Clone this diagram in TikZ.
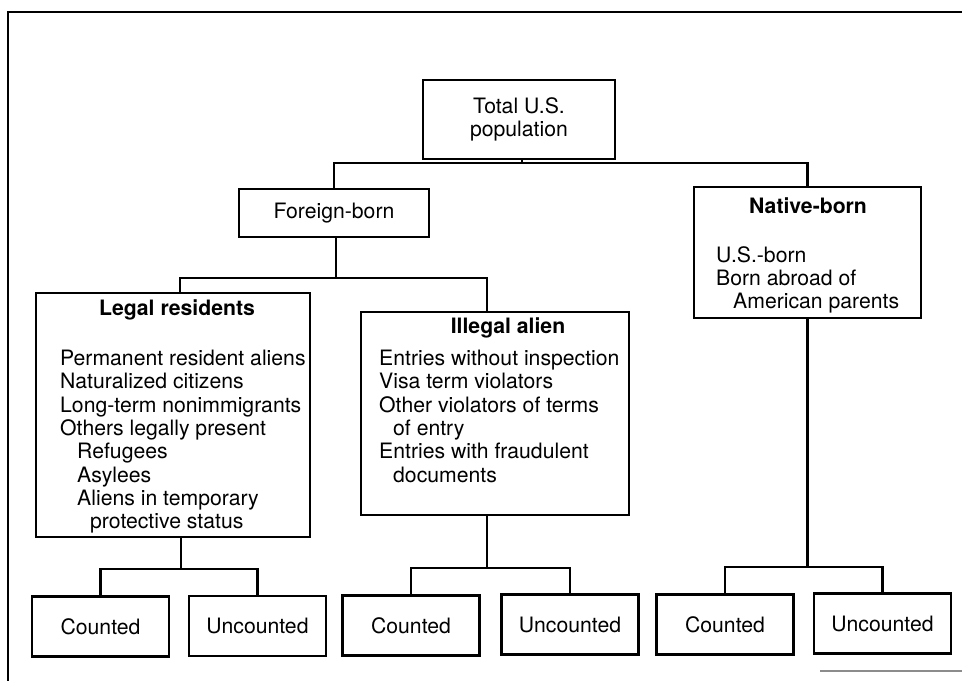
\documentclass[tikz,border=0pt]{standalone}
\usepackage{fontspec}
\setmainfont{TeX Gyre Heros}
\usetikzlibrary{calc}
\newcommand\chartfont{\fontsize{21.2}{23.3}\selectfont}

\begin{document}
\begin{tikzpicture}[x=1pt, y=-1pt,
  box/.style={draw, line width=2.4pt, inner sep=0, font=\chartfont, align=center},
  leaf/.style={box, minimum width=137pt, minimum height=60pt},
  link/.style={line width=2.4pt},
  txt/.style={inner sep=0, font=\chartfont, align=left},
  head/.style={inner sep=0, font=\chartfont\bfseries, anchor=base}]
\useasboundingbox (0,0) rectangle (962,681);
\draw[line width=2.4pt] (962,12) -- (8,12) -- (8,681);
\draw[black!45, line width=1.2pt] (820,671) -- (962,671);

\node[box, minimum width=192pt, minimum height=79pt] (total) at (519,119.5) {Total U.S.\\population};
\node[box, minimum width=190pt, minimum height=48pt] (foreign) at (334,213) {Foreign-born};
\node[box, minimum width=227pt, minimum height=131pt] (native) at (807.5,252.5) {};
\node[box, minimum width=274pt, minimum height=244pt] (legal) at (173,415) {};
\node[box, minimum width=268pt, minimum height=203pt] (illegal) at (495,413.5) {};

\node[head] (nativehd) at (808,213) {Native-born};
\node[txt, anchor=north west] (nativetx) at (716,246) {U.S.-born\\Born abroad of\\\hspace*{17pt}American parents};
\node[head] (legalhd) at (177,315) {Legal residents};
\node[txt, anchor=north west] (legaltx) at (60,350) {Permanent resident aliens\\Naturalized citizens\\Long-term nonimmigrants\\Others legally present\\\hspace*{17pt}Refugees\\\hspace*{17pt}Asylees\\\hspace*{17pt}Aliens in temporary\\\hspace*{30pt}protective status};
\node[head] (illegalhd) at (508,333) {Illegal alien};
\node[txt, anchor=north west] (illegaltx) at (379,350) {Entries without inspection\\Visa term violators\\Other violators of terms\\\hspace*{14pt}of entry\\Entries with fraudulent\\\hspace*{14pt}documents};

\node[leaf] (cnt1) at (100.5,626.5) {Counted};
\node[leaf] (unc1) at (257.5,626) {Uncounted};
\node[leaf] (cnt2) at (411,625.5) {Counted};
\node[leaf] (unc2) at (570,624.5) {Uncounted};
\node[leaf] (cnt3) at (725,624.5) {Counted};
\node[leaf] (unc3) at (882.5,623.5) {Uncounted};

\coordinate (topj) at (522,163);
\coordinate (fj) at (336,278);
\coordinate (lj) at (181,569);
\coordinate (ij) at (487,568);
\coordinate (nj) at (807.5,567);

\draw[link] (total.south -| topj) -- (topj);
\draw[link] (foreign.north) |- (topj) -| (native.north);
\draw[link] (foreign.south -| fj) -- (fj);
\draw[link] ([xshift=7pt]legal.north) |- (fj) -| ([xshift=-8pt]illegal.north);
\draw[link] (legal.south -| lj) -- (lj);
\draw[link] (cnt1.north) |- (lj) -| (unc1.north);
\draw[link] (illegal.south -| ij) -- (ij);
\draw[link] (cnt2.north) |- (ij) -| (unc2.north);
\draw[link] (native.south) -- (nj);
\draw[link] (cnt3.north) |- (nj) -| (unc3.north);
\end{tikzpicture}
\end{document}
